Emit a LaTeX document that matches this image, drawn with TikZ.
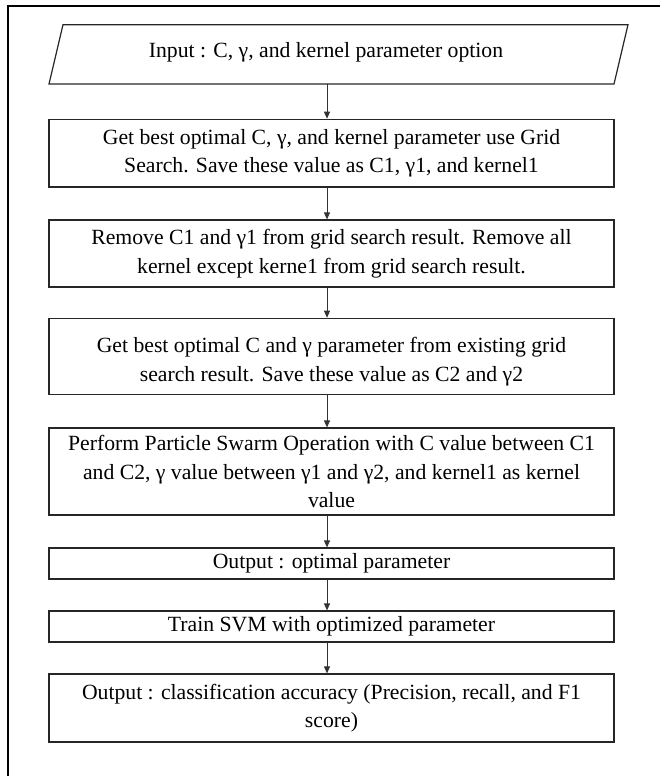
\documentclass[tikz,border=0pt]{standalone}
\usepackage{fontspec}
\setmainfont{Liberation Serif}
\usetikzlibrary{arrows.meta,calc}
\begin{document}
\begin{tikzpicture}[x=1pt,y=1pt,
  txt/.style={font=\fontsize{21.7}{28.5}\selectfont, align=center, inner sep=0pt},
  box/.style={txt, draw=black!85, line width=1.2pt, rectangle, minimum width=565pt},
  ioline/.style={draw=black!85, line width=1.2pt, line join=miter},
  arr/.style={draw=black!80, line width=0.9pt, -{Triangle[length=7pt,width=6pt]}},
  frameline/.style={draw=black, line width=1.4pt}]
\useasboundingbox (0,0) rectangle (660,-776);
% outer frame (top and left edges only)
\coordinate (ftop) at (660,-6);
\coordinate (fcorner) at (8,-6);
\coordinate (fbot) at (8,-776);
\draw[frameline] (ftop) -- (fcorner) -- (fbot);

% input parallelogram
\coordinate (pbl) at (49,-84);
\coordinate (pbr) at (614,-84);
\coordinate (ptr) at (628,-24.7);
\coordinate (ptl) at (63,-24.7);
\draw[ioline] (pbl) -- (pbr) -- (ptr) -- (ptl) -- cycle;
\node[txt] (in) at (326,-52.5) {Input : C, γ, and kernel parameter option};

\node[box, minimum height=67.7pt] (b2) at (331.5,-153.15) {Get best optimal C, γ, and kernel parameter use Grid\\Search. Save these value as C1, γ1, and kernel1};
\node[box, minimum height=67pt] (b3) at (331.5,-253.5) {Remove C1 and γ1 from grid search result. Remove all\\kernel except kerne1 from grid search result.};
\node[box, minimum height=76pt] (b4) at (331.5,-356.3) {\rule{0pt}{26pt}Get best optimal C and γ parameter from existing grid\\search result. Save these value as C2 and γ2};
\node[box, minimum height=87pt] (b5) at (331.5,-471.5) {Perform Particle Swarm Operation with C value between C1\\and C2, γ value between γ1 and γ2, and kernel1 as kernel\\value};
\node[box, minimum height=31pt] (b6) at (331.5,-563.5) {Output : optimal parameter};
\node[box, minimum height=31pt] (b7) at (331.5,-626.5) {Train SVM with optimized parameter};
\node[box, minimum height=68pt] (b8) at (331.5,-708) {Output : classification accuracy (Precision, recall, and F1\\score)};

\draw[arr] ([xshift=-4.5pt]b2.north |- pbl) -- ([xshift=-4.5pt]b2.north);
\draw[arr] ([xshift=-4.5pt]b2.south) -- ([xshift=-4.5pt]b3.north);
\draw[arr] ([xshift=-4.5pt]b3.south) -- ([xshift=-4.5pt]b4.north);
\draw[arr] ([xshift=-4.5pt]b4.south) -- ([xshift=-4.5pt]b5.north);
\draw[arr] ([xshift=-4.5pt]b5.south) -- ([xshift=-4.5pt]b6.north);
\draw[arr] ([xshift=-4.5pt]b6.south) -- ([xshift=-4.5pt]b7.north);
\draw[arr] ([xshift=-4.5pt]b7.south) -- ([xshift=-4.5pt]b8.north);
\end{tikzpicture}
\end{document}
